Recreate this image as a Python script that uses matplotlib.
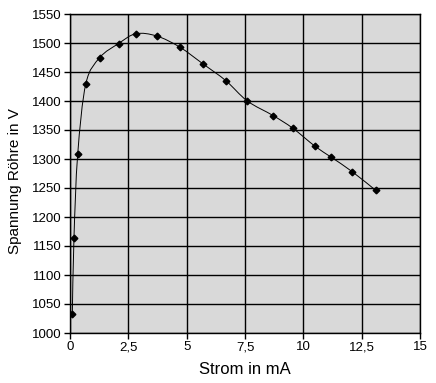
import matplotlib
matplotlib.use("Agg")
import matplotlib.pyplot as plt
from matplotlib.path import Path
from matplotlib.patches import PathPatch
import numpy as np

strom_mA = [0.1, 0.17, 0.33, 0.68, 1.28, 2.08, 2.82, 3.72, 4.7, 5.7,
            6.68, 7.6, 8.7, 9.55, 10.5, 11.2, 12.1, 13.1]
spannung_V = [1033, 1164, 1308, 1430, 1475, 1499, 1516, 1512, 1493, 1464,
              1435, 1400, 1375, 1353, 1322, 1303, 1278, 1246]
x_ticks = [0, 2.5, 5, 7.5, 10, 12.5, 15]
x_tick_labels = ["0", "2,5", "5", "7,5", "10", "12,5", "15"]
y_ticks = list(range(1000, 1551, 50))

plt.rcParams['font.family'] = ['Liberation Sans', 'DejaVu Sans']

W, H = 436, 383
fig = plt.figure(figsize=(W / 100, H / 100), dpi=100)
fig.patch.set_facecolor('white')
ax = fig.add_axes([70 / W, 1 - 333 / H, 350 / W, 319 / H])
ax.set_facecolor('#D9D9D9')
ax.set_xlim(0, 15)
ax.set_ylim(1000, 1550)
ax.set_xticks(x_ticks)
ax.set_xticklabels(x_tick_labels)
ax.set_yticks(y_ticks)
ax.grid(True, color='black', linewidth=1.0)
ax.set_axisbelow(True)
for s in ax.spines.values():
    s.set_color('black')
    s.set_linewidth(1.0)
ax.tick_params(direction='out', length=4, width=1, colors='black',
               labelsize=9.5, pad=2)

# smoothed line (Catmull-Rom style Bezier, affine-invariant so data coords ok)
x = np.array(strom_mA, float)
y = np.array(spannung_V, float)
n = len(x)
verts = [(x[0], y[0])]
codes = [Path.MOVETO]
for i in range(n - 1):
    p0 = np.array([x[max(i - 1, 0)], y[max(i - 1, 0)]])
    p1 = np.array([x[i], y[i]])
    p2 = np.array([x[i + 1], y[i + 1]])
    p3 = np.array([x[min(i + 2, n - 1)], y[min(i + 2, n - 1)]])
    c1 = p1 + (p2 - p0) / 6.0
    c2 = p2 - (p3 - p1) / 6.0
    verts += [tuple(c1), tuple(c2), tuple(p2)]
    codes += [Path.CURVE4] * 3
ax.add_patch(PathPatch(Path(verts, codes), facecolor='none',
                       edgecolor='black', linewidth=0.7, zorder=3))
ax.plot(strom_mA, spannung_V, linestyle='none', marker='D', markersize=3.4,
        color='black', zorder=4)

ax.set_xlabel('Strom in mA', fontsize=12, labelpad=6)
ax.set_ylabel('Spannung Röhre in V', fontsize=11)
ax.yaxis.set_label_coords(-48 / 350, 0.475)

fig.savefig('out.png', dpi=100)
